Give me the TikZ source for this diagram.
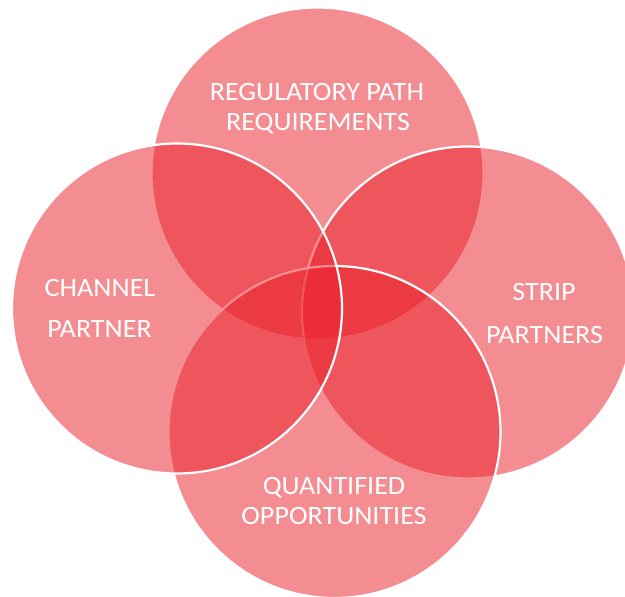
\documentclass[tikz,border=0pt]{standalone}
\usepackage{fontspec}
\setmainfont{Carlito}[FakeStretch=1.06]
\definecolor{vennred}{RGB}{234,32,42}
\begin{document}
\begin{tikzpicture}[x=1pt,y=-1pt,
  venn/.style={circle, draw=white, line width=2.2pt, fill=vennred,
    fill opacity=0.51, minimum size=332pt, inner sep=0pt},
  venntext/.style={text=white, anchor=base, inner sep=0pt,
    font=\fontsize{26.5}{30}\selectfont}]
\useasboundingbox (0,0) rectangle (625,597);
\clip (0,0) rectangle (625,597);

% four overlapping sets, drawn back to front
\node[venn] (cTop)    at (317.5,173.5) {};
\node[venn] (cRight)  at (468,312.5)   {};
\node[venn] (cBottom) at (334.5,432)   {};
\node[venn, minimum size=330pt] (cLeft) at (177,308.5) {};

% set names
\node[venntext] (tTopA)    at (317,100) {REGULATORY PATH};
\node[venntext] (tTopB)    at (318,130) {REQUIREMENTS};
\node[venntext] (tLeftA)   at (100,296) {CHANNEL};
\node[venntext] (tLeftB)   at (99.5,337) {PARTNER};
\node[venntext] (tRightA)  at (544,300) {STRIP};
\node[venntext] (tRightB)  at (544.5,343) {PARTNERS};
\node[venntext] (tBottomA) at (334,494) {QUANTIFIED};
\node[venntext] (tBottomB) at (334,524) {OPPORTUNITIES};
\end{tikzpicture}
\end{document}
